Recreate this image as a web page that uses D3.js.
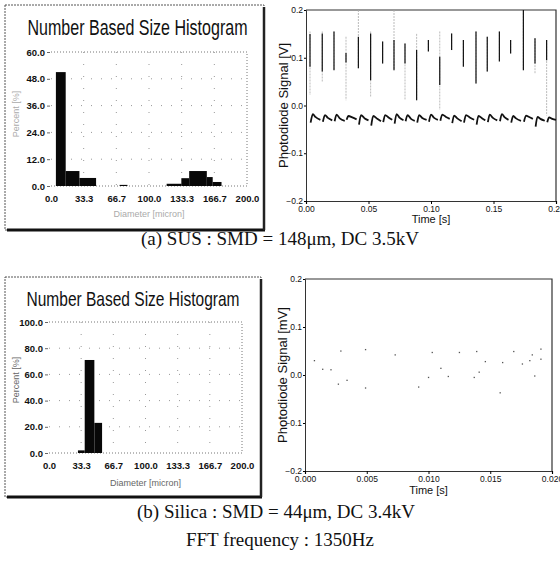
<!DOCTYPE html>
<html>
<head>
<meta charset="utf-8">
<script src="https://cdnjs.cloudflare.com/ajax/libs/d3/7.8.5/d3.min.js"></script>
<style>
body { margin: 0; background: #fff; }
svg { display: block; }
</style>
</head>
<body>
<svg id="fig" width="560" height="567"></svg>
<script>
// histogram (a) SUS : bins [start, end] in micron and percent
const susBinStart = [5, 15, 29, 70, 118, 133, 141, 159, 165];
const susBinEnd   = [15, 29, 46, 78, 133, 141, 159, 165, 174];
const susPercent  = [51, 6.7, 3.6, 0.5, 1, 3.5, 6.7, 4, 1.8];
const susYTicks = [0, 12, 24, 36, 48, 60];

// histogram (b) Silica
const silBinStart = [30, 37, 47];
const silBinEnd   = [37, 47, 55];
const silPercent  = [2, 71, 23];
const silYTicks = [0, 20, 40, 60, 80, 100];

const diamTicks = [0, 33.33, 66.67, 100, 133.33, 166.67, 200];
const diamLabels = ["0.0", "33.3", "66.7", "100.0", "133.3", "166.7", "200.0"];

// photodiode signal (a): spikes per period
const spikeT = [0.0032,0.013,0.0224,0.032,0.0419,0.0517,0.0613,0.0704,0.0792,0.0885,0.0979,0.107,0.1165,0.1259,0.136,0.145,0.1547,0.1637,0.1739,0.1832,0.1925];
const darkTop = [0.15,0.151,0.155,0.11,0.144,0.151,0.134,0.137,0.13,0.116,0.137,0.102,0.151,0.137,0.155,0.144,0.155,0.137,0.2,0.141,0.137];
const darkBot = [0.081,0.071,0.074,0.09,0.078,0.053,0.088,0.074,0.088,0.011,0.113,0.043,0.116,0.081,0.046,0.071,0.092,0.109,0.074,0.088,0.095];
const faintTop = [0.155,0.155,0.155,0.144,0.2,0.155,0.134,0.2,0.13,0.15,0.137,0.155,0.151,0.137,0.155,0.144,0.155,0.137,0.2,0.141,0.137];
const faintBot = [0.022,0.05,0.074,0.011,0.078,0.018,0.088,0.074,0.011,0.011,0.113,-0.009,0.116,0.081,0.046,0.071,0.092,0.109,0.074,0.067,-0.021];

// baseline of signal (a), null = gap
const baseT = [
  0.0037,0.0055,0.0075,0.0115,null, 0.0135,0.0152,0.0175,0.021,null, 0.0229,0.0245,0.027,0.031,null,
  0.0325,0.034,0.037,0.0405,null, 0.0424,0.044,0.047,0.050,null, 0.0522,0.0538,0.057,0.060,null,
  0.0618,0.0633,0.066,0.069,null, 0.0709,0.0725,0.075,0.078,null, 0.0797,0.0812,0.084,0.087,null,
  0.089,0.0905,0.093,0.0965,null, 0.0984,0.1,0.1025,0.1055,null, 0.1075,0.109,0.112,0.115,null,
  0.117,0.1185,0.121,0.1245,null, 0.1264,0.128,0.131,0.1345,null, 0.1365,0.138,0.141,0.1435,null,
  0.1455,0.147,0.1495,0.153,null, 0.1552,0.1567,0.159,0.162,null, 0.1642,0.1658,0.168,0.172,null,
  0.1744,0.176,0.1785,0.1815,null, 0.1837,0.1852,0.1875,0.191,null, 0.193,0.1945,0.197,0.2
];
const baseV = [
  -0.036,-0.018,-0.024,-0.030,null, -0.034,-0.020,-0.026,-0.031,null, -0.033,-0.019,-0.027,-0.032,null,
  -0.030,-0.022,-0.025,-0.029,null, -0.040,-0.020,-0.027,-0.031,null, -0.042,-0.022,-0.028,-0.033,null,
  -0.035,-0.020,-0.025,-0.030,null, -0.038,-0.018,-0.026,-0.031,null, -0.033,-0.020,-0.028,-0.032,null,
  -0.036,-0.020,-0.026,-0.030,null, -0.034,-0.019,-0.026,-0.030,null, -0.032,-0.019,-0.024,-0.028,null,
  -0.037,-0.021,-0.027,-0.033,null, -0.036,-0.020,-0.025,-0.030,null, -0.040,-0.022,-0.027,-0.031,null,
  -0.035,-0.019,-0.026,-0.031,null, -0.033,-0.018,-0.025,-0.030,null, -0.036,-0.022,-0.027,-0.032,null,
  -0.034,-0.021,-0.024,-0.028,null, -0.044,-0.024,-0.028,-0.032,null, -0.035,-0.025,-0.028,-0.030
];

// photodiode signal (b): scattered dots
const silT = [0.00076,0.00143,0.0021,0.0027,0.0029,0.0034,0.0049,0.0049,0.0073,0.0092,0.0100,0.0103,0.0110,0.0116,0.0125,0.0137,0.0139,0.0141,0.0146,0.0158,0.0160,0.0169,0.0176,0.0182,0.0184,0.0186,0.0191,0.0191];
const silV = [0.030,0.012,0.011,-0.019,0.050,-0.011,0.053,-0.027,0.042,-0.025,-0.005,0.047,0.014,-0.003,0.047,-0.005,0.049,0.006,0.028,-0.037,0.026,0.049,0.023,0.030,0.042,-0.002,0.054,0.033];

const signalTicks = [-0.2, -0.1, 0, 0.1, 0.2];

const svg = d3.select("#fig");
const narrowFont = "'Liberation Sans Narrow', 'Liberation Sans', Arial, sans-serif";
const sansFont = "'Liberation Sans', Arial, sans-serif";

function drawHist(box, plot, yMax, yTicks, starts, ends, vals, titleY, opts) {
  const g = svg.append("g");
  // frame with shadow
  g.append("rect")
    .attr("x", box.x0).attr("y", box.y0)
    .attr("width", box.x1 - box.x0).attr("height", box.y1 - box.y0)
    .attr("fill", "none").attr("stroke", "#555")
    .attr("stroke-dasharray", "2,1");
  g.append("line").attr("x1", box.x0 + 2).attr("x2", box.x1 + 1)
    .attr("y1", box.y1).attr("y2", box.y1)
    .attr("stroke", "#111").attr("stroke-width", 3);
  g.append("line").attr("x1", box.x1).attr("x2", box.x1)
    .attr("y1", box.y0 + 2).attr("y2", box.y1)
    .attr("stroke", "#222").attr("stroke-width", 2.5);

  g.append("text")
    .attr("x", (box.x0 + box.x1) / 2 + opts.titleDx).attr("y", titleY)
    .attr("text-anchor", "middle")
    .attr("font-family", sansFont).attr("font-size", opts.titleSize)
    .attr("textLength", opts.titleLen).attr("lengthAdjust", "spacingAndGlyphs")
    .attr("fill", "#111")
    .text("Number Based Size Histogram");

  const x = d3.scaleLinear().domain([0, 200]).range([plot.x0, plot.x1]);
  const y = d3.scaleLinear().domain([0, yMax]).range([plot.y1, plot.y0]);

  // sparse dotted grid
  g.selectAll(".hg").data(yTicks.slice(1, -1)).enter().append("line")
    .attr("x1", plot.x0).attr("x2", plot.x1)
    .attr("y1", d => y(d)).attr("y2", d => y(d))
    .attr("stroke", "#999").attr("stroke-dasharray", "1,9");
  g.selectAll(".vg").data(diamTicks.slice(1, -1)).enter().append("line")
    .attr("x1", d => x(d)).attr("x2", d => x(d))
    .attr("y1", plot.y0).attr("y2", plot.y1)
    .attr("stroke", "#999").attr("stroke-dasharray", "1,11");
  // plot border, dotted
  g.append("path")
    .attr("d", `M${plot.x0},${plot.y0}H${plot.x1}V${plot.y1}H${plot.x0}`)
    .attr("fill", "none").attr("stroke", "#777").attr("stroke-dasharray", "1,2");

  // bars
  g.selectAll(".bar").data(vals).enter().append("rect")
    .attr("x", (d, i) => x(starts[i]))
    .attr("width", (d, i) => x(ends[i]) - x(starts[i]))
    .attr("y", d => y(d))
    .attr("height", d => y(0) - y(d))
    .attr("fill", "#080808");

  const ya = d3.axisLeft(y).tickValues(yTicks).tickFormat(d3.format(".1f")).tickSize(3).tickPadding(2);
  const ygr = g.append("g").attr("transform", `translate(${plot.x0 - 1},0)`).call(ya);
  ygr.select(".domain").remove();
  ygr.selectAll("line").attr("stroke", "#666");
  ygr.selectAll("text").attr("font-family", narrowFont).attr("font-size", 9.5)
    .attr("font-weight", "bold").attr("fill", "#111");

  const xa = d3.axisBottom(x).tickValues(diamTicks).tickFormat((d, i) => diamLabels[i]).tickSize(0).tickPadding(9);
  const xgr = g.append("g").attr("transform", `translate(0,${plot.y1})`).call(xa);
  xgr.select(".domain").remove();
  xgr.selectAll("text").attr("font-family", narrowFont).attr("font-size", 9.5)
    .attr("font-weight", "bold").attr("fill", "#111");

  g.append("text")
    .attr("x", (plot.x0 + plot.x1) / 2).attr("y", opts.xTitleY)
    .attr("text-anchor", "middle")
    .attr("font-family", sansFont).attr("font-size", 9)
    .attr("fill", opts.titleGray)
    .text("Diameter [micron]");
  g.append("text")
    .attr("transform", `translate(${opts.yTitleX},${opts.yTitleY}) rotate(-90)`)
    .attr("text-anchor", "middle")
    .attr("font-family", sansFont).attr("font-size", 9)
    .attr("fill", opts.titleGray)
    .text("Percent [%]");
}

function signalFrame(plot, xMax, xTicks, xFmt, yLabel, timeY) {
  const g = svg.append("g");
  const x = d3.scaleLinear().domain([0, xMax]).range([plot.x0, plot.x1]);
  const y = d3.scaleLinear().domain([-0.2, 0.2]).range([plot.y1, plot.y0]);

  g.append("path")
    .attr("d", `M${plot.x0},${plot.y0}H${plot.x1}V${plot.y1}`)
    .attr("fill", "none").attr("stroke", "#333").attr("stroke-width", 1.2);

  const ya = d3.axisLeft(y).tickValues(signalTicks).tickFormat(d3.format(".1f")).tickSize(2).tickPadding(1);
  const ygr = g.append("g").attr("transform", `translate(${plot.x0},0)`).call(ya);
  ygr.select(".domain").attr("stroke", "#333");
  ygr.selectAll("text").attr("font-family", narrowFont).attr("font-size", 8.5).attr("fill", "#111");

  const xa = d3.axisBottom(x).tickValues(xTicks).tickFormat(d3.format(xFmt)).tickSize(3).tickPadding(2);
  const xgr = g.append("g").attr("transform", `translate(0,${plot.y1})`).call(xa);
  xgr.select(".domain").attr("stroke", "#333").attr("stroke-width", 1.2);
  xgr.selectAll("text").attr("font-family", narrowFont).attr("font-size", 8.5).attr("fill", "#111");

  g.append("text")
    .attr("transform", `translate(${plot.x0 - 18},${(plot.y0 + plot.y1) / 2}) rotate(-90)`)
    .attr("text-anchor", "middle")
    .attr("font-family", sansFont).attr("font-size", 13)
    .attr("fill", "#111")
    .text(yLabel);
  g.append("text")
    .attr("x", (plot.x0 + plot.x1) / 2).attr("y", timeY)
    .attr("text-anchor", "middle")
    .attr("font-family", sansFont).attr("font-size", 11)
    .attr("fill", "#111")
    .text("Time [s]");
  return { g, x, y };
}

// ---- (a) histogram ----
drawHist({ x0: 5, y0: 5, x1: 264, y1: 230 }, { x0: 51, x1: 247, y0: 52, y1: 186 },
  60, susYTicks, susBinStart, susBinEnd, susPercent, 35,
  { titleSize: 22, titleLen: 220, titleDx: 3, xTitleY: 217, titleGray: "#aaa", yTitleX: 19, yTitleY: 114 });

// ---- (b) histogram ----
drawHist({ x0: 5, y0: 277, x1: 261, y1: 497 }, { x0: 49, x1: 242, y0: 322, y1: 453 },
  100, silYTicks, silBinStart, silBinEnd, silPercent, 306,
  { titleSize: 21, titleLen: 213, titleDx: 0, xTitleY: 486, titleGray: "#666", yTitleX: 19, yTitleY: 380 });

// ---- (a) signal ----
const sa = signalFrame({ x0: 306, x1: 556, y0: 10, y1: 201 }, 0.2,
  [0, 0.05, 0.1, 0.15, 0.2], ".2f", "Photodiode Signal [V]", 223);

sa.g.selectAll(".fs").data(spikeT).enter().append("line")
  .attr("x1", d => sa.x(d)).attr("x2", d => sa.x(d))
  .attr("y1", (d, i) => sa.y(faintTop[i])).attr("y2", (d, i) => sa.y(faintBot[i]))
  .attr("stroke", "#aaa").attr("stroke-width", 0.8).attr("stroke-dasharray", "2,1");
sa.g.selectAll(".ds").data(spikeT).enter().append("line")
  .attr("x1", d => sa.x(d)).attr("x2", d => sa.x(d))
  .attr("y1", (d, i) => sa.y(darkTop[i])).attr("y2", (d, i) => sa.y(darkBot[i]))
  .attr("stroke", "#111").attr("stroke-width", 1.2);

const baseLine = d3.line()
  .defined((d, i) => baseT[i] !== null)
  .x((d, i) => sa.x(baseT[i]))
  .y((d, i) => sa.y(baseV[i]))
  .curve(d3.curveMonotoneX);
sa.g.append("path")
  .attr("d", baseLine(baseT))
  .attr("fill", "none").attr("stroke", "#111").attr("stroke-width", 1.8);

// ---- (b) signal ----
const sb = signalFrame({ x0: 305, x1: 552, y0: 279, y1: 471 }, 0.02,
  [0, 0.005, 0.01, 0.015, 0.02], ".3f", "Photodiode Signal [mV]", 494);

sb.g.selectAll(".pt").data(silT).enter().append("rect")
  .attr("x", d => sb.x(d) - 0.6).attr("y", (d, i) => sb.y(silV[i]) - 0.6)
  .attr("width", 1.3).attr("height", 1.3)
  .attr("fill", "#555");

// ---- captions ----
const serif = "'Liberation Serif', 'Times New Roman', serif";
svg.append("text").attr("x", 280).attr("y", 245).attr("text-anchor", "middle")
  .attr("font-family", serif).attr("font-size", 19).attr("fill", "#111")
  .text("(a) SUS : SMD = 148\u03bcm, DC 3.5kV");
svg.append("text").attr("x", 276).attr("y", 518).attr("text-anchor", "middle")
  .attr("font-family", serif).attr("font-size", 19).attr("fill", "#111")
  .text("(b) Silica : SMD = 44\u03bcm, DC 3.4kV");
svg.append("text").attr("x", 280).attr("y", 546).attr("text-anchor", "middle")
  .attr("font-family", serif).attr("font-size", 19).attr("fill", "#111")
  .text("FFT frequency : 1350Hz");
</script>
</body>
</html>
